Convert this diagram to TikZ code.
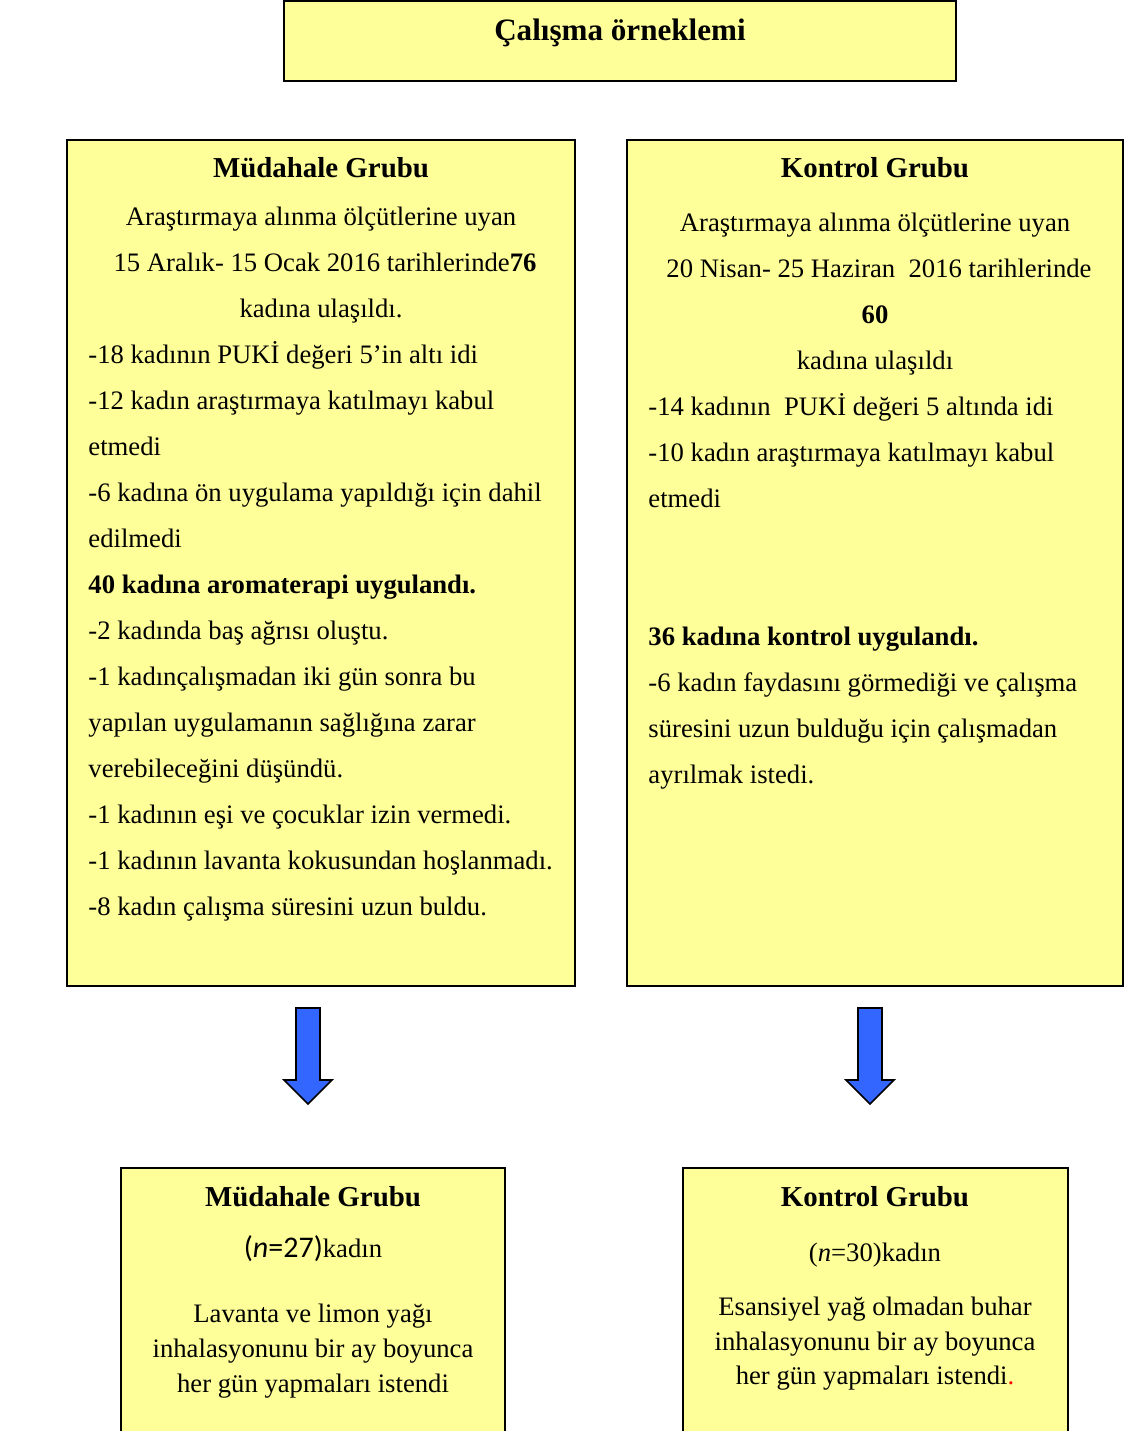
\documentclass[tikz,border=0pt]{standalone}
\usepackage{fontspec}
\setmainfont{Liberation Serif}
\newfontfamily\calibri{Carlito}
\usetikzlibrary{fit}
\definecolor{boxyellow}{RGB}{255,255,153}
\definecolor{arrowblue}{RGB}{51,102,255}
\begin{document}
\begin{tikzpicture}
[
 x=0.45pt, y=-0.45pt,
 inner sep=0pt,
 BOX/.style={rectangle, draw=black, fill=boxyellow, line width=0.7pt, inner sep=0pt},
 ARROW/.style={draw=black, fill=arrowblue, line width=0.7pt, line join=miter},
 TITLE/.style={anchor=base, font=\fontsize{14}{16}\selectfont\bfseries},
 HEAD/.style={anchor=base, font=\fontsize{13}{15}\selectfont\bfseries},
 CLINE/.style={anchor=base, font=\fontsize{12}{14}\selectfont},
 LLINE/.style={anchor=base west, font=\fontsize{12}{14}\selectfont},
 ]
%
\clip (0,0) rectangle (1125,1431);
%
% boxes
\node [BOX, fit={(284,1) (956,81)}]      (SAMPLE) {};
\node [BOX, fit={(67,140) (575,986)}]    (MG)     {};
\node [BOX, fit={(627,140) (1123,986)}]  (KG)     {};
\node [BOX, fit={(121,1168) (505,1450)}] (MGEND)  {};
\node [BOX, fit={(683,1168) (1068,1450)}](KGEND)  {};
%
% block arrows
\foreach \ax in {308,870}
  {
    \draw [ARROW] (\ax-12,1008) -- (\ax+12,1008) -- (\ax+12,1080) -- (\ax+24,1080)
                  -- (\ax,1104) -- (\ax-24,1080) -- (\ax-12,1080) -- cycle;
  }
%
\node [TITLE] (SAMPLET) at (620,40) {Çalışma örneklemi};
%
% left box
\node [HEAD]  (MGH)  at (321,177) {Müdahale Grubu};
\node [CLINE] (MGC1) at (321,225) {Araştırmaya alınma ölçütlerine uyan};
\node [CLINE] (MGC2) at (325,271) {15 Aralık- 15 Ocak 2016 tarihlerinde\textbf{76}};
\node [CLINE] (MGC3) at (321,317) {kadına ulaşıldı.};
\foreach \yy/\txt [count=\i] in {
    363/{-18 kadının PUKİ değeri 5’in altı idi},
    409/{-12 kadın araştırmaya katılmayı kabul},
    455/{etmedi},
    501/{-6 kadına ön uygulama yapıldığı için dahil},
    547/{edilmedi},
    593/{\textbf{40 kadına aromaterapi uygulandı.}},
    639/{-2 kadında baş ağrısı oluştu.},
    685/{-1 kadınçalışmadan iki gün sonra bu},
    731/{yapılan uygulamanın sağlığına zarar},
    777/{verebileceğini düşündü.},
    823/{-1 kadının eşi ve çocuklar izin vermedi.},
    869/{-1 kadının lavanta kokusundan hoşlanmadı.},
    915/{-8 kadın çalışma süresini uzun buldu.}}
  { \node [LLINE] (MGL\i) at (88,\yy) {\txt}; }
%
% right box
\node [HEAD]  (KGH)  at (875,177) {Kontrol Grubu};
\node [CLINE] (KGC1) at (875,231) {Araştırmaya alınma ölçütlerine uyan};
\node [CLINE] (KGC2) at (879,277) {20 Nisan- 25 Haziran\ \ 2016 tarihlerinde};
\node [CLINE] (KGC3) at (875,323) {\textbf{60}};
\node [CLINE] (KGC4) at (875,369) {kadına ulaşıldı};
\foreach \yy/\txt [count=\i] in {
    415/{-14 kadının\ \ PUKİ değeri 5 altında idi},
    461/{-10 kadın araştırmaya katılmayı kabul},
    507/{etmedi},
    645/{\textbf{36 kadına kontrol uygulandı.}},
    691/{-6 kadın faydasını görmediği ve çalışma},
    737/{süresini uzun bulduğu için çalışmadan},
    783/{ayrılmak istedi.}}
  { \node [LLINE] (KGL\i) at (648,\yy) {\txt}; }
%
% bottom boxes
\node [HEAD]  (MGEH)  at (313,1206) {Müdahale Grubu};
\node [CLINE] (MGE1)  at (313,1257) {{\calibri\fontsize{13.5}{15}\selectfont(\textit{n}=27)}kadın};
\node [CLINE] (MGE2)  at (313,1322) {Lavanta ve limon yağı};
\node [CLINE] (MGE3)  at (313,1357) {inhalasyonunu bir ay boyunca};
\node [CLINE] (MGE4)  at (313,1392) {her gün yapmaları istendi};
%
\node [HEAD]  (KGEH)  at (875,1206) {Kontrol Grubu};
\node [CLINE] (KGE1)  at (875,1261) {(\textit{n}=30)kadın};
\node [CLINE] (KGE2)  at (875,1315) {Esansiyel yağ olmadan buhar};
\node [CLINE] (KGE3)  at (875,1350) {inhalasyonunu bir ay boyunca};
\node [CLINE] (KGE4)  at (875,1384) {her gün yapmaları istendi\textcolor{red}{.}};
%
\end{tikzpicture}
\end{document}
